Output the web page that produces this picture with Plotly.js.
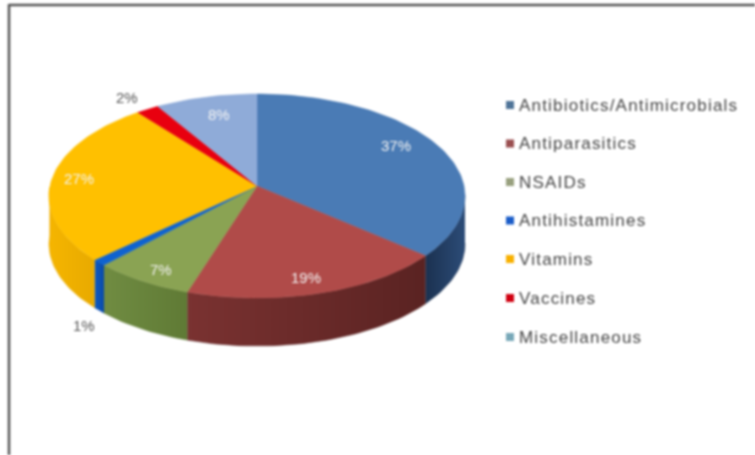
<!DOCTYPE html>
<html><head><meta charset="utf-8">
<script src="https://cdn.plot.ly/plotly-3.0.1.min.js"></script>
<style>html,body{margin:0;padding:0;background:#fff}#c{width:755px;height:455px;filter:blur(1px)}</style>
</head><body><div id="c"></div>
<script>
const categories=["Antibiotics/Antimicrobials","Antiparasitics","NSAIDs","Antihistamines","Vitamins","Vaccines","Miscellaneous"];
const values=[37,19,7,1,27,2,8];
const percentLabels=["37%","19%","7%","1%","27%","2%","8%"];
const topColors=["#4a7bb5","#b04b49","#8aa353","#0f63d0","#ffc000","#e8000f","#8fabd8"];
const sideDark=["#1b3150","#5a2322","#5f7a35","#0a4aa8","#e8aa00","#a80008","#6a86b0"];
const sideLight=["#2c4c78","#7a3231","#708c42","#0f5cc4","#f5b500","#c80010","#7c98c4"];
const legendSwatches=["#4f7498","#9a4f50","#98a07e","#1a5cc8","#f8b000","#d00010","#78a8b8"];

// projection of the tilted disc onto pixel axes
const P={cx:257,cy:196,apexY:186,rx:208,ry:102,depth:48};
const total=values.reduce((a,b)=>a+b,0);
const warp=d=>d<200?d-6.8*Math.sin(Math.PI*d/200):(d<330?d+5*Math.sin(Math.PI*(d-200)/130):d);
const px=d=>P.cx+P.rx*Math.sin(warp(d)*Math.PI/180);
const py=d=>P.cy-P.ry*Math.cos(warp(d)*Math.PI/180);
function arc(a,b){const n=Math.max(2,Math.ceil((b-a)/1.5)),o=[];for(let i=0;i<=n;i++)o.push(a+(b-a)*i/n);return o;}

const traces=[],tops=[];
let acc=0;
values.forEach((v,i)=>{
  const a=acc/total*360,b=(acc+v)/total*360;acc+=v;
  const s=Math.max(a,96.3),e=Math.min(b,270);
  if(e>s){
    const ar=arc(s,e),rev=[...ar].reverse();
    traces.push({type:"scatter",mode:"lines",name:categories[i]+" side",showlegend:false,hoverinfo:"skip",
      x:ar.map(px).concat(rev.map(px)),
      y:ar.map(py).concat(rev.map(d=>py(d)+P.depth)),
      fill:"toself",line:{width:0.5,color:sideDark[i]},
      fillgradient:{type:"horizontal",colorscale:i===0?[[0,sideDark[i]],[1,sideLight[i]]]:[[0,sideLight[i]],[1,sideDark[i]]]}
    });
  }
  const ar=arc(a,b);
  tops.push({type:"scatter",mode:"lines",name:categories[i],showlegend:false,
    x:[P.cx].concat(ar.map(px),[P.cx]),y:[P.apexY].concat(ar.map(py),[P.apexY]),
    fill:"toself",fillcolor:topColors[i],line:{width:0.5,color:topColors[i]}});
});

// data-label placement (pixels)
const labelX=[396,306,161,84,79,127,219];
const labelY=[145,277,269,325,178,97,114];
const labelColor=["#f4f4f4","#f4f4f4","#f4f4f4","#555","#f4f4f4","#555","#f4f4f4"];
const annotations=percentLabels.map((t,i)=>({x:labelX[i],y:labelY[i],xref:"x",yref:"y",text:t,showarrow:false,
  font:{family:"Liberation Sans",size:15,color:labelColor[i]}}));

// legend rows
const legendY=[105,143.5,182,220.5,259,298,337];
const legendMarks={type:"scatter",mode:"markers",showlegend:false,hoverinfo:"skip",
  x:categories.map(()=>510),y:legendY,
  marker:{symbol:"square",size:8,color:legendSwatches}};
const legendText={type:"scatter",mode:"text",showlegend:false,hoverinfo:"skip",
  x:categories.map(()=>519),y:legendY.map(v=>v+1.5),text:categories,textposition:"middle right",
  textfont:{family:"Liberation Sans",size:17,color:"#444"}};

Plotly.newPlot("c",traces.concat(tops,[legendMarks,legendText]),{
  width:755,height:455,margin:{l:0,r:0,t:0,b:0},paper_bgcolor:"#fff",plot_bgcolor:"#fff",showlegend:false,
  xaxis:{range:[0,755],visible:false,fixedrange:true},
  yaxis:{range:[455,0],visible:false,fixedrange:true},
  annotations,
  shapes:[
    {type:"line",xref:"x",yref:"y",x0:9,x1:755,y0:5,y1:5,line:{color:"#555",width:2.5}},
    {type:"line",xref:"x",yref:"y",x0:9,x1:9,y0:4,y1:455,line:{color:"#555",width:2.5}}
  ]
},{displayModeBar:false,staticPlot:true}).then(gd=>{
  gd.querySelectorAll(".textpoint text").forEach(t=>{t.style.letterSpacing="1.2px";});
});
</script></body></html>
